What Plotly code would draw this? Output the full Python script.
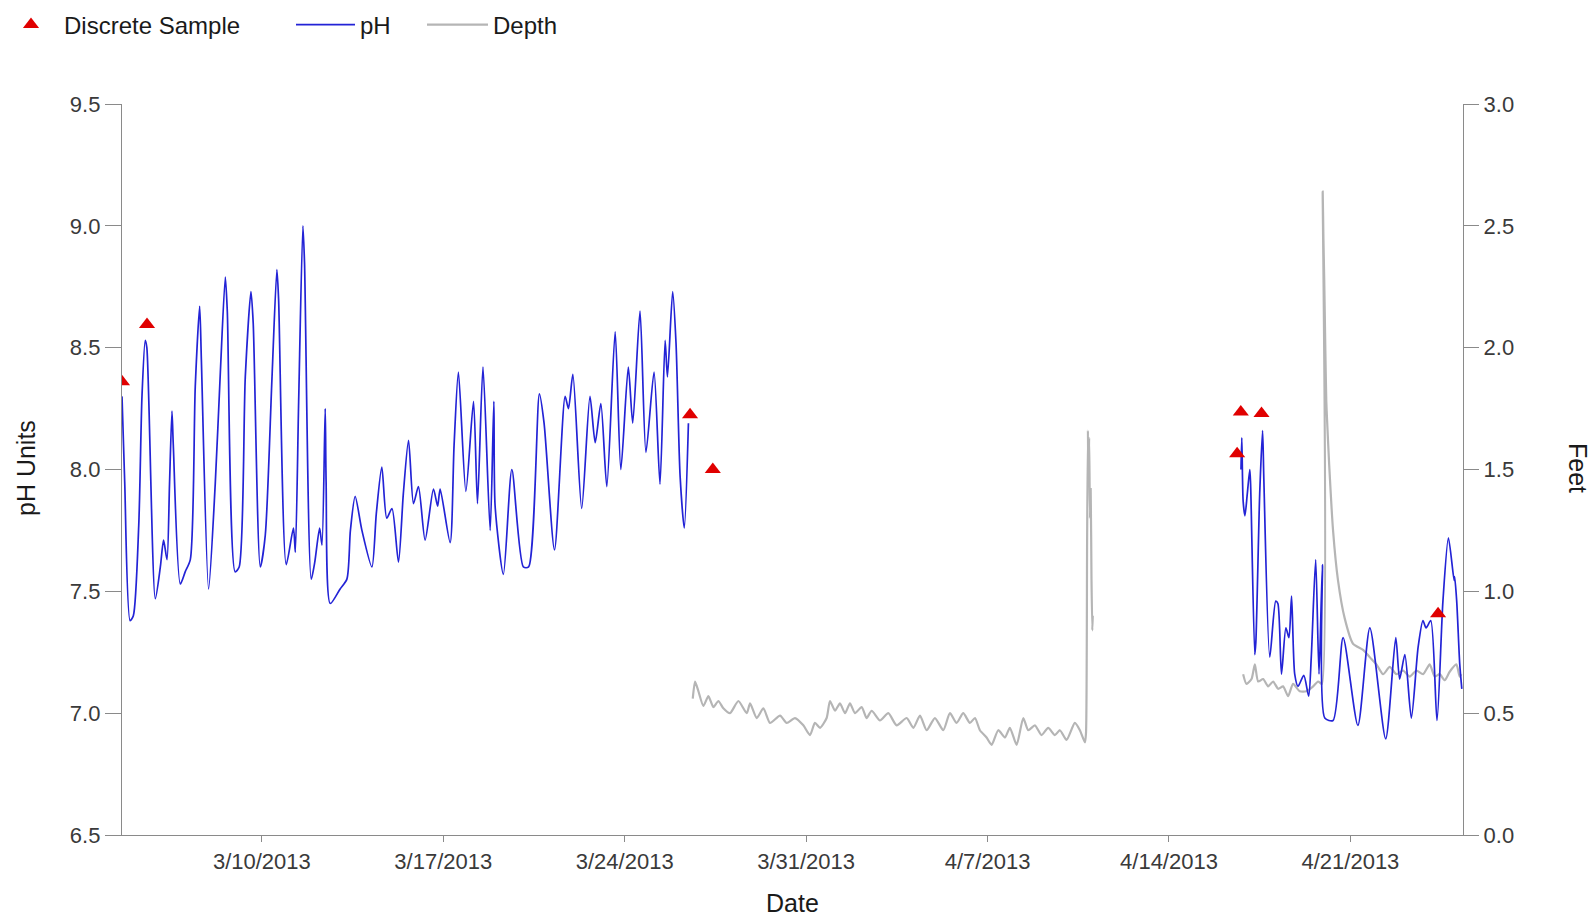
import plotly.graph_objects as go

# ---------------- data ----------------
ph_dates_mar = [
    "2013-03-04 14:30", "2013-03-04 17:00", "2013-03-04 22:00", "2013-03-05 01:00", "2013-03-05 06:00",
    "2013-03-05 09:00", "2013-03-05 12:00", "2013-03-05 13:30", "2013-03-05 21:20", "2013-03-06 02:00",
    "2013-03-06 05:00", "2013-03-06 08:10", "2013-03-06 10:30", "2013-03-06 12:45", "2013-03-06 14:00",
    "2013-03-06 20:30", "2013-03-07 01:00", "2013-03-07 05:45", "2013-03-07 10:20", "2013-03-07 14:25",
    "2013-03-07 16:00", "2013-03-07 22:40", "2013-03-08 04:50", "2013-03-08 09:35", "2013-03-08 14:10",
    "2013-03-08 16:00", "2013-03-08 23:15", "2013-03-09 03:00", "2013-03-09 08:40", "2013-03-09 13:55",
    "2013-03-09 16:00", "2013-03-09 22:35", "2013-03-10 03:10", "2013-03-10 09:20", "2013-03-10 13:55",
    "2013-03-10 15:30", "2013-03-10 22:35", "2013-03-11 05:15", "2013-03-11 07:00", "2013-03-11 10:05",
    "2013-03-11 14:00", "2013-03-11 15:30", "2013-03-11 21:45", "2013-03-12 01:00", "2013-03-12 05:30",
    "2013-03-12 07:40", "2013-03-12 10:40", "2013-03-12 11:30", "2013-03-12 15:20", "2013-03-13 00:30",
    "2013-03-13 06:45", "2013-03-13 10:00", "2013-03-13 14:25", "2013-03-13 20:40", "2013-03-14 05:55",
    "2013-03-14 10:00", "2013-03-14 15:05", "2013-03-14 19:40", "2013-03-15 00:30", "2013-03-15 06:30",
    "2013-03-15 11:00", "2013-03-15 15:50", "2013-03-15 20:25", "2013-03-16 01:00", "2013-03-16 07:10",
    "2013-03-16 14:55", "2013-03-16 18:45", "2013-03-16 21:05", "2013-03-17 06:20", "2013-03-17 10:00",
    "2013-03-17 14:00", "2013-03-17 20:55", "2013-03-18 04:00", "2013-03-18 07:40", "2013-03-18 12:45",
    "2013-03-18 19:25", "2013-03-18 22:50", "2013-03-19 00:00", "2013-03-19 07:40", "2013-03-19 15:30",
    "2013-03-20 02:10", "2013-03-20 07:00", "2013-03-20 17:00", "2013-03-20 21:20", "2013-03-21 07:00",
    "2013-03-21 16:50", "2013-03-21 19:55", "2013-03-22 00:00", "2013-03-22 08:10", "2013-03-22 15:50",
    "2013-03-22 20:40", "2013-03-23 01:55", "2013-03-23 07:25", "2013-03-23 15:10", "2013-03-23 20:25",
    "2013-03-24 03:20", "2013-03-24 07:25", "2013-03-24 14:10", "2013-03-24 19:40", "2013-03-25 03:10",
    "2013-03-25 08:40", "2013-03-25 13:25", "2013-03-25 15:35", "2013-03-25 20:25", "2013-03-25 23:30",
    "2013-03-26 03:20", "2013-03-26 07:10", "2013-03-26 11:00",
]
ph_values_mar = [
    8.30, 7.95, 7.38, 7.40, 7.77,
    8.30, 8.53, 8.50, 7.47, 7.60,
    7.71, 7.63, 7.94, 8.24, 8.10,
    7.53, 7.58, 7.63, 8.34, 8.67,
    8.45, 7.51, 7.94, 8.40, 8.79,
    8.65, 7.58, 7.60, 8.38, 8.73,
    8.60, 7.60, 7.73, 8.37, 8.82,
    8.70, 7.61, 7.76, 7.66, 8.28,
    9.00, 8.85, 7.55, 7.62, 7.76,
    7.69, 8.25, 7.95, 7.45, 7.51,
    7.55, 7.75, 7.89, 7.75, 7.60,
    7.82, 8.01, 7.80, 7.84, 7.62,
    7.90, 8.12, 7.86, 7.93, 7.71,
    7.92, 7.85, 7.92, 7.70, 8.10,
    8.40, 7.91, 8.28, 7.86, 8.42,
    7.75, 8.28, 7.85, 7.57, 8.00,
    7.60, 7.60, 8.31, 8.19, 7.67,
    8.30, 8.25, 8.39, 7.84, 8.30,
    8.11, 8.27, 7.93, 8.565, 8.00,
    8.42, 8.19, 8.65, 8.07, 8.40,
    7.94, 8.53, 8.38, 8.73, 8.52,
    7.97, 7.76, 8.19,
]

ph_dates_apr = [
    "2013-04-16 18:40", "2013-04-16 19:25", "2013-04-16 20:40", "2013-04-16 22:20", "2013-04-17 00:30",
    "2013-04-17 02:50", "2013-04-17 03:35", "2013-04-17 07:25", "2013-04-17 08:25", "2013-04-17 12:00",
    "2013-04-17 14:40", "2013-04-17 15:50", "2013-04-17 21:20", "2013-04-18 02:50", "2013-04-18 04:50",
    "2013-04-18 08:10", "2013-04-18 12:15", "2013-04-18 15:05", "2013-04-18 17:30", "2013-04-18 20:25",
    "2013-04-18 23:30", "2013-04-19 04:50", "2013-04-19 09:20", "2013-04-19 11:45", "2013-04-19 15:50",
    "2013-04-19 18:55", "2013-04-19 22:05", "2013-04-20 00:15", "2013-04-20 07:55", "2013-04-20 17:15",
    "2013-04-21 06:55", "2013-04-21 18:00", "2013-04-22 08:40", "2013-04-22 18:00", "2013-04-22 21:35",
    "2013-04-23 02:25", "2013-04-23 08:25", "2013-04-23 14:40", "2013-04-23 19:10", "2013-04-23 22:05",
    "2013-04-24 02:25", "2013-04-24 08:10", "2013-04-24 13:40", "2013-04-24 18:45", "2013-04-25 00:00",
    "2013-04-25 00:30", "2013-04-25 02:25", "2013-04-25 05:15", "2013-04-25 07:10",
]
ph_values_apr = [
    8.00, 8.13, 7.87, 7.81, 7.90,
    8.00, 7.94, 7.24, 7.29, 7.90,
    8.16, 7.96, 7.23, 7.46, 7.45,
    7.16, 7.35, 7.31, 7.48, 7.16,
    7.11, 7.155, 7.07, 7.23, 7.63,
    7.16, 7.61, 6.98, 6.97, 7.31,
    6.95, 7.35, 6.895, 7.31, 7.14,
    7.24, 6.98, 7.27, 7.38, 7.35,
    7.38, 6.97, 7.46, 7.72, 7.545,
    7.56, 7.46, 7.20, 7.10,
]

depth_dates_mar = [
    "2013-03-26 15:00", "2013-03-26 17:10", "2013-03-26 20:15", "2013-03-27 00:50", "2013-03-27 05:30",
    "2013-03-27 10:05", "2013-03-27 14:45", "2013-03-27 19:20", "2013-03-28 01:30", "2013-03-28 09:15",
    "2013-03-28 17:00", "2013-03-28 20:05", "2013-03-29 02:15", "2013-03-29 08:25", "2013-03-29 14:35",
    "2013-03-29 23:50", "2013-03-30 06:00", "2013-03-30 13:40", "2013-03-30 21:25", "2013-03-31 03:35",
    "2013-03-31 08:10", "2013-03-31 12:50", "2013-03-31 19:00", "2013-03-31 22:05", "2013-04-01 02:45",
    "2013-04-01 07:20", "2013-04-01 12:00", "2013-04-01 16:35", "2013-04-01 21:15", "2013-04-02 03:25",
    "2013-04-02 08:00", "2013-04-02 12:40", "2013-04-02 20:25", "2013-04-03 04:05", "2013-04-03 11:50",
    "2013-04-03 21:05", "2013-04-04 03:15", "2013-04-04 09:25", "2013-04-04 15:35", "2013-04-04 23:15",
    "2013-04-05 07:00", "2013-04-05 13:10", "2013-04-05 19:20", "2013-04-06 01:30", "2013-04-06 07:40",
    "2013-04-06 12:20", "2013-04-06 16:55", "2013-04-06 23:05", "2013-04-07 03:45", "2013-04-07 09:55",
    "2013-04-07 16:05", "2013-04-07 20:40", "2013-04-08 02:55", "2013-04-08 09:05", "2013-04-08 13:40",
    "2013-04-08 19:50", "2013-04-09 02:00", "2013-04-09 08:10", "2013-04-09 14:20", "2013-04-09 19:00",
    "2013-04-10 01:10", "2013-04-10 08:50", "2013-04-10 13:30", "2013-04-10 18:10", "2013-04-10 19:10",
    "2013-04-10 20:10", "2013-04-10 20:55", "2013-04-10 21:20", "2013-04-10 22:05", "2013-04-10 22:50",
    "2013-04-10 23:30", "2013-04-11 00:15", "2013-04-11 01:00", "2013-04-11 01:25",
]
depth_values_mar = [
    0.56, 0.63, 0.59, 0.53, 0.57,
    0.525, 0.55, 0.52, 0.50, 0.55,
    0.50, 0.54, 0.48, 0.52, 0.46,
    0.49, 0.46, 0.48, 0.45, 0.41,
    0.46, 0.44, 0.48, 0.55, 0.51,
    0.54, 0.50, 0.54, 0.50, 0.525,
    0.48, 0.51, 0.47, 0.50, 0.45,
    0.48, 0.44, 0.49, 0.43, 0.48,
    0.43, 0.50, 0.46, 0.50, 0.46,
    0.48, 0.43, 0.40, 0.37, 0.43,
    0.40, 0.44, 0.37, 0.48, 0.43,
    0.45, 0.41, 0.44, 0.41, 0.43,
    0.39, 0.46, 0.43, 0.38, 0.42,
    1.20, 1.66, 1.45, 1.63, 1.30,
    1.42, 1.05, 0.84, 0.90,
]

depth_dates_apr = [
    "2013-04-16 20:40", "2013-04-16 23:45", "2013-04-17 04:25", "2013-04-17 07:30", "2013-04-17 10:35",
    "2013-04-17 15:10", "2013-04-17 19:50", "2013-04-18 00:25", "2013-04-18 05:05", "2013-04-18 09:40",
    "2013-04-18 14:20", "2013-04-18 18:55", "2013-04-19 01:05", "2013-04-19 07:20", "2013-04-19 13:30",
    "2013-04-19 18:05", "2013-04-19 21:35", "2013-04-19 22:20", "2013-04-19 23:00", "2013-04-19 23:45",
    "2013-04-20 00:45", "2013-04-20 01:40", "2013-04-20 02:25", "2013-04-20 04:20", "2013-04-20 07:55",
    "2013-04-20 12:30", "2013-04-20 18:40", "2013-04-21 02:25", "2013-04-21 11:45", "2013-04-21 17:55",
    "2013-04-22 00:05", "2013-04-22 06:15", "2013-04-22 12:25", "2013-04-22 18:35", "2013-04-23 00:45",
    "2013-04-23 06:55", "2013-04-23 13:05", "2013-04-23 19:15", "2013-04-24 01:25", "2013-04-24 06:05",
    "2013-04-24 10:40", "2013-04-24 15:20", "2013-04-24 19:55", "2013-04-25 02:05", "2013-04-25 05:10",
    "2013-04-25 06:45",
]
depth_values_apr = [
    0.66, 0.62, 0.64, 0.70, 0.63,
    0.64, 0.61, 0.63, 0.60, 0.61,
    0.57, 0.62, 0.59, 0.59, 0.61,
    0.63, 0.62, 2.64, 2.45, 2.28,
    2.00, 1.78, 1.70, 1.52, 1.25,
    1.045, 0.89, 0.785, 0.76, 0.73,
    0.70, 0.66, 0.69, 0.66, 0.675,
    0.65, 0.675, 0.66, 0.70, 0.65,
    0.66, 0.635, 0.67, 0.70, 0.65,
    0.66,
]

sample_dates = [
    "2013-03-04 14:30", "2013-03-05 13:40", "2013-03-26 12:30", "2013-03-27 09:35",
    "2013-04-16 15:05", "2013-04-16 18:30", "2013-04-17 13:40", "2013-04-24 09:10",
]
sample_values = [8.36, 8.595, 8.225, 8.00, 8.065, 8.236, 8.23, 7.408]

tick_dates = ["2013-03-10", "2013-03-17", "2013-03-24", "2013-03-31",
              "2013-04-07", "2013-04-14", "2013-04-21"]
tick_labels = ["3/10/2013", "3/17/2013", "3/24/2013", "3/31/2013",
               "4/7/2013", "4/14/2013", "4/21/2013"]

ph_ticks = [6.5, 7.0, 7.5, 8.0, 8.5, 9.0, 9.5]
depth_ticks = [0.0, 0.5, 1.0, 1.5, 2.0, 2.5, 3.0]

# ---------------- figure ----------------
FONT = "Liberation Sans, Arial, sans-serif"
AXIS_COLOR = "#8a8a8a"
TICK_FONT = dict(family=FONT, size=22, color="#3a3a3a")

ph_x = ph_dates_mar + [None] + ph_dates_apr
ph_y = ph_values_mar + [None] + ph_values_apr
depth_x = depth_dates_mar + [None] + depth_dates_apr
depth_y = depth_values_mar + [None] + depth_values_apr

fig = go.Figure()

fig.add_trace(go.Scatter(
    x=depth_x, y=depth_y, mode="lines", name="Depth", yaxis="y",
    line=dict(color="#b5b5b5", width=2.2, shape="spline", smoothing=0.6), connectgaps=False,
    legend="legend3",
))
fig.add_trace(go.Scatter(
    x=ph_x, y=ph_y, mode="lines", name="pH", yaxis="y2",
    line=dict(color="#2323d6", width=1.7, shape="spline", smoothing=0.7), connectgaps=False,
    legend="legend2",
))
fig.add_trace(go.Scatter(
    x=sample_dates, y=sample_values, mode="markers", name="Discrete Sample", yaxis="y2",
    marker=dict(symbol="triangle-up", size=14, color="#e00000"),
    legend="legend",
))

L, R, T, B = 122, 133, 104, 83
W, H = 1596, 918
pw = W - L - R
ph = H - T - B


def px_to_paper_x(px):
    return (px - L) / pw


def px_to_paper_y(py):
    return (H - B - py) / ph


legend_common = dict(
    orientation="h", xanchor="left", yanchor="middle",
    y=px_to_paper_y(25), bgcolor="rgba(0,0,0,0)", borderwidth=0,
    font=dict(family=FONT, size=24, color="#1a1a1a"),
)

fig.update_layout(
    width=W, height=H,
    margin=dict(l=L, r=R, t=T, b=B, autoexpand=False),
    paper_bgcolor="white", plot_bgcolor="white",
    font=dict(family=FONT),
    showlegend=True,
    legend=dict(x=px_to_paper_x(-2), itemwidth=56, **legend_common),
    legend2=dict(x=px_to_paper_x(291), itemwidth=59, **legend_common),
    legend3=dict(x=px_to_paper_x(422), itemwidth=61, **legend_common),
    xaxis=dict(
        range=["2013-03-04 14:30", "2013-04-25 08:15"],
        tickvals=tick_dates, ticktext=tick_labels,
        showline=True, linecolor=AXIS_COLOR, linewidth=1.3,
        ticks="outside", ticklen=6, tickcolor=AXIS_COLOR, tickwidth=1.3,
        showgrid=False, zeroline=False, tickfont=TICK_FONT,
    ),
    yaxis=dict(
        range=[0, 3], side="right", tickvals=depth_ticks, tickformat=".1f",
        showline=True, linecolor=AXIS_COLOR, linewidth=1.3,
        ticks="outside", ticklen=15, tickcolor=AXIS_COLOR, tickwidth=1.3,
        showgrid=False, zeroline=False, tickfont=TICK_FONT,
    ),
    yaxis2=dict(
        range=[6.5, 9.5], side="left", overlaying="y", tickvals=ph_ticks, tickformat=".1f",
        showline=True, linecolor=AXIS_COLOR, linewidth=1.3,
        ticks="outside", ticklen=16, tickcolor=AXIS_COLOR, tickwidth=1.3,
        showgrid=False, zeroline=False, tickfont=TICK_FONT,
    ),
    annotations=[
        dict(text="Date", x=0.5, y=px_to_paper_y(903), xref="paper", yref="paper",
             xanchor="center", yanchor="middle", showarrow=False,
             font=dict(family=FONT, size=25, color="#1a1a1a")),
        dict(text="pH Units", x=px_to_paper_x(26), y=px_to_paper_y(468), xref="paper", yref="paper",
             xanchor="center", yanchor="middle", textangle=-90, showarrow=False,
             font=dict(family=FONT, size=25, color="#1a1a1a")),
        dict(text="Feet", x=px_to_paper_x(1578), y=px_to_paper_y(468), xref="paper", yref="paper",
             xanchor="center", yanchor="middle", textangle=90, showarrow=False,
             font=dict(family=FONT, size=25, color="#1a1a1a")),
    ],
)

fig.write_html(
    "out.html",
    config={"displayModeBar": False},
    post_script="document.body.style.margin='0px';document.body.style.overflow='hidden';",
)
